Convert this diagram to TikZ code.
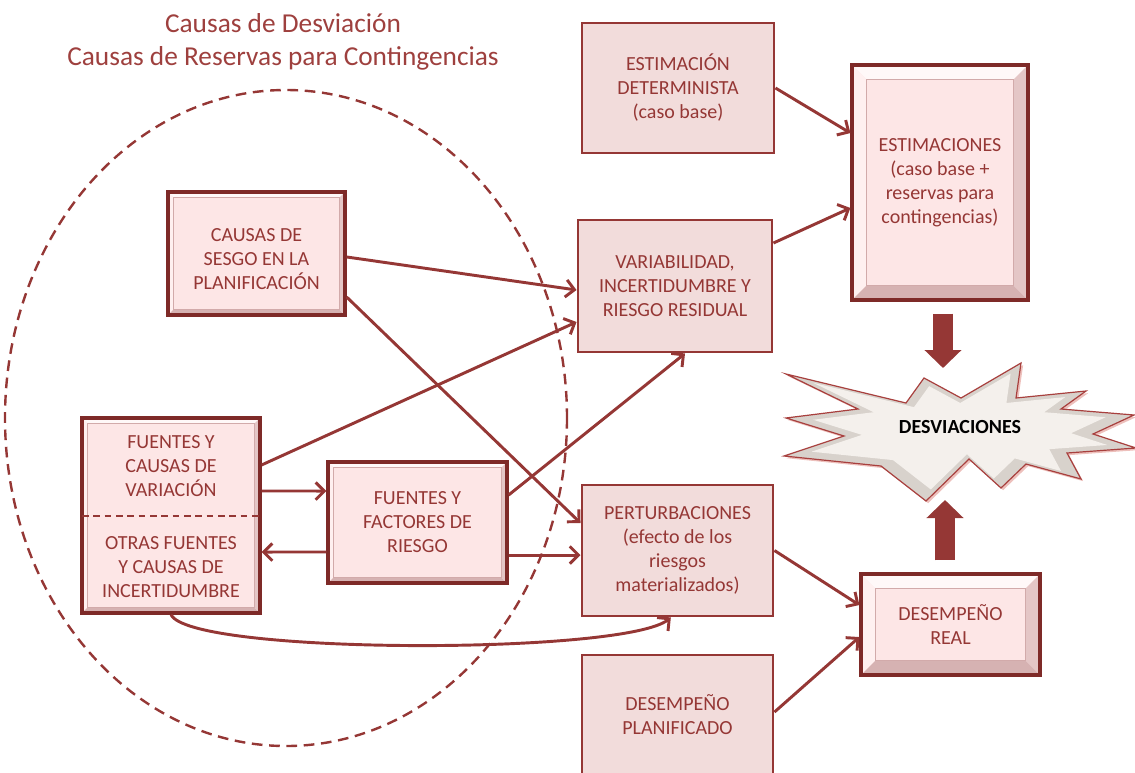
\documentclass[tikz,border=0pt]{standalone}
\usepackage{fontspec}
\setmainfont{Carlito}
\usetikzlibrary{arrows.meta,shadows,calc}

\definecolor{wine}{HTML}{953735}
\definecolor{winedark}{HTML}{7E2A28}
\definecolor{flatfill}{HTML}{F2DCDB}
\definecolor{softfill}{HTML}{FDE6E6}
\definecolor{titlered}{HTML}{9E403E}
\definecolor{bevtop}{HTML}{FFF8F8}
\definecolor{bevleft}{HTML}{FFF0F0}
\definecolor{bevbottom}{HTML}{D6B2B2}
\definecolor{bevright}{HTML}{E4C6C6}
\definecolor{bevline}{HTML}{D2AAAA}
\definecolor{burstedge}{HTML}{A8403E}
\definecolor{burstshade}{HTML}{D8D2CC}
\definecolor{burstface}{HTML}{F4F0EC}
\definecolor{burstpink}{HTML}{EDC0BC}

% raised-panel look: four bands along the inside of the frame
\newcommand\bevelbands[1]{%
  \fill[bevtop] (path picture bounding box.north west) -- (path picture bounding box.north east)
    -- ([xshift=-#1pt,yshift=-#1pt]path picture bounding box.north east)
    -- ([xshift=#1pt,yshift=-#1pt]path picture bounding box.north west) -- cycle;
  \fill[bevleft] (path picture bounding box.north west) -- (path picture bounding box.south west)
    -- ([xshift=#1pt,yshift=#1pt]path picture bounding box.south west)
    -- ([xshift=#1pt,yshift=-#1pt]path picture bounding box.north west) -- cycle;
  \fill[bevbottom] (path picture bounding box.south west) -- (path picture bounding box.south east)
    -- ([xshift=-#1pt,yshift=#1pt]path picture bounding box.south east)
    -- ([xshift=#1pt,yshift=#1pt]path picture bounding box.south west) -- cycle;
  \fill[bevright] (path picture bounding box.north east) -- (path picture bounding box.south east)
    -- ([xshift=-#1pt,yshift=#1pt]path picture bounding box.south east)
    -- ([xshift=-#1pt,yshift=-#1pt]path picture bounding box.north east) -- cycle;
  \draw[bevline, line width=0.5pt]
    ([xshift=#1pt,yshift=-#1pt]path picture bounding box.north west)
    rectangle ([xshift=-#1pt,yshift=#1pt]path picture bounding box.south east);
}

% outline of the burst, relative to its centre
\newcommand\burstpath{(-170,-55) -- (-50,-26) -- (-32,-51) -- (5,-31) -- (65,-66) -- (60,-31)
  -- (130,-38) -- (105,-20) -- (178,-14) -- (137,5) -- (180,19) -- (111,24) -- (125,50)
  -- (70,35) -- (45,59) -- (13,30) -- (-30,72) -- (-75,37) -- (-172,27) -- (-112,7)
  -- (-170,-11) -- (-98,-20) -- cycle}

\tikzset{
  boxtext/.style={text=wine, align=center, font=\fontsize{15}{18}\selectfont},
  flatbox/.style={boxtext, draw=wine, fill=flatfill, line width=2.2pt, inner sep=0pt},
  bevbox/.style={boxtext, draw=winedark, fill=softfill, line width=2.4pt, inner sep=0pt,
    drop shadow={shadow xshift=1.8pt, shadow yshift=-1.8pt, opacity=0.45, fill=black!70},
    path picture={\bevelbands{#1}}},
  conn/.style={draw=wine, line width=2.2pt, -{Straight Barb[length=6.5pt,width=13pt]}},
  bigarrow/.style={draw=wine, line width=14.5pt, -{Triangle[length=13.5pt,width=27pt]}},
  zone/.style={draw=wine, line width=1.8pt, dash pattern=on 8pt off 5pt},
}

\begin{document}
\begin{tikzpicture}[x=0.75pt, y=-0.75pt]
\useasboundingbox (0,0) rectangle (1135,772);
\clip (0,0) rectangle (1135,772);

% heading
\node[font=\fontsize{20.5}{24.7}\selectfont, text=titlered, align=center] (title) at (283,42)
  {Causas de Desviación\\Causas de Reservas para Contingencias};

% dashed zone around the causes
\draw[zone] (286,418) ellipse [x radius=281, y radius=328];

% boxes
\node[bevbox=4, minimum width=132.75pt, minimum height=92.25pt] (sesgo) at (256.5,253.5) {};
\node[boxtext] (sesgotxt) at (256.5,259) {CAUSAS DE\\SESGO EN LA\\PLANIFICACIÓN};
\node[bevbox=4, minimum width=133.5pt, minimum height=146.25pt] (fcausas) at (171,515.5) {};
\coordinate (divy) at (0,516);
\draw[wine, line width=1.1pt, dash pattern=on 5pt off 3.5pt]
  ([xshift=1.2pt]fcausas.west |- divy) -- ([xshift=-1.2pt]fcausas.east |- divy);
\node[boxtext] (fcvar) at (171,466) {FUENTES Y\\CAUSAS DE\\VARIACIÓN};
\node[boxtext] (fcinc) at (171,567) {OTRAS FUENTES\\Y CAUSAS DE\\INCERTIDUMBRE};
\node[bevbox=4, minimum width=134.25pt, minimum height=90.75pt] (factores) at (417.5,522.5)
  {FUENTES Y\\FACTORES DE\\RIESGO};

\node[flatbox, minimum width=144pt, minimum height=97.5pt] (determ) at (678,88)
  {ESTIMACIÓN\\DETERMINISTA\\(caso base)};
\node[flatbox, minimum width=145.5pt, minimum height=99pt] (variab) at (675,286)
  {VARIABILIDAD,\\INCERTIDUMBRE Y\\RIESGO RESIDUAL};
\node[flatbox, minimum width=143.25pt, minimum height=98.25pt] (perturb) at (677.5,550.5)
  {PERTURBACIONES\\(efecto de los\\riesgos\\materializados)};
\node[flatbox, minimum width=143.25pt, minimum height=90pt] (planif) at (677.5,715)
  {DESEMPEÑO\\PLANIFICADO};

\node[bevbox=11, minimum width=132pt, minimum height=176.25pt] (estim) at (940,182.5)
  {ESTIMACIONES\\(caso base +\\reservas para\\contingencias)};
\node[bevbox=11, minimum width=134.25pt, minimum height=75.75pt] (real) at (950.5,624.5)
  {DESEMPEÑO\\REAL};

% burst
\begin{scope}[shift={(956,429)}]
  \fill[burstpink] [xshift=1.6pt, yshift=-1.6pt] \burstpath;
  \filldraw[fill=burstshade, draw=burstedge, line width=0.9pt] \burstpath;
  \begin{scope}[scale=0.84]
    \fill[burstface] \burstpath;
  \end{scope}
\end{scope}
\node[font=\fontsize{15}{18}\selectfont\bfseries, text=black] (desv) at (960,427) {DESVIACIONES};

% connectors
\draw[conn] ([yshift=-2.6pt]sesgo.east) -- ([yshift=-3pt]variab.west);
\draw[conn] ([yshift=-32.6pt]sesgo.east) -- ([yshift=20.6pt]perturb.west);
\draw[conn] ([yshift=37.9pt]fcausas.east) -- ([yshift=-27pt]variab.west);
\draw[conn] ([yshift=18.4pt]fcausas.east) -- ([yshift=23.6pt]factores.west);
\draw[conn] ([yshift=-22.1pt]factores.west) -- ([yshift=-27.4pt]fcausas.east);
\draw[conn] ([yshift=20.6pt]factores.east) -- ([xshift=7.5pt]variab.south);
\draw[conn] ([yshift=-24.4pt]factores.east) -- ([yshift=-3.4pt]perturb.west);
\draw[conn] (fcausas.south) .. controls (190,655) and (625,655) .. ([xshift=-5pt]perturb.south);
\draw[conn] (determ.east) -- ([yshift=37.1pt]estim.west);
\draw[conn] ([yshift=32.25pt]variab.east) -- ([yshift=-19.1pt]estim.west);
\draw[conn] (perturb.east) -- ([yshift=14.6pt]real.west);
\draw[conn] ([yshift=2.25pt]planif.east) -- ([yshift=-9.4pt]real.west);

% block arrows into the burst
\coordinate (dtip) at (943,368);
\coordinate (utip) at (945,500);
\draw[bigarrow] ($(dtip |- estim.south)+(0,12)$) -- (dtip);
\draw[bigarrow] ($(utip |- real.north)+(0,-12)$) -- (utip);
\end{tikzpicture}
\end{document}
